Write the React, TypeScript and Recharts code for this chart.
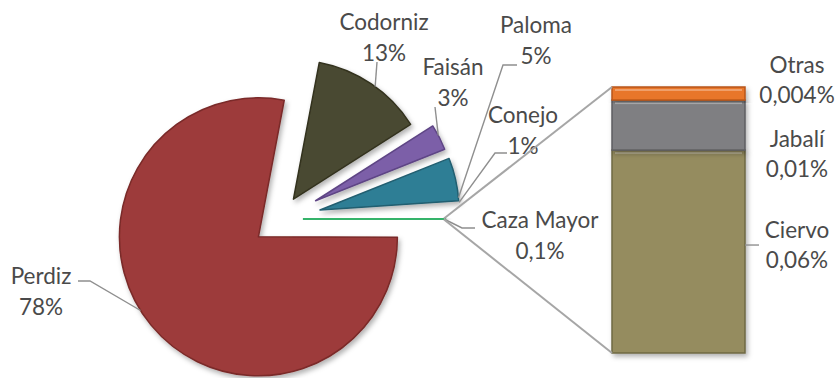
import React from 'react'
import { PieChart, Pie, Cell, BarChart, Bar, XAxis, YAxis } from 'recharts'

// main pie
const categories = ['Perdiz', 'Codorniz', 'Faisán', 'Paloma', 'Conejo', 'Caza Mayor']
const shares = [78, 13, 3, 5, 1, 0.1]
const shareLabels = ['78%', '13%', '3%', '5%', '1%', '0,1%']

// breakdown of "Caza Mayor" (bar)
const subCategories = ['Ciervo', 'Jabalí', 'Otras']
const subShares = [0.0605, 0.0149, 0.0039]
const subLabels = ['0,06%', '0,01%', '0,004%']

const W = 838
const H = 378
const FONT = 'Lato, "Open Sans", sans-serif'
const TEXT = '#4A4A4A'
const RAD = Math.PI / 180

const PIE_CX = 280
const PIE_CY = 219
const R = 139
const START = -0.18
const explode = [28, 24, 40, 41, 41, 25]
const sliceFill = ['#9D3B3A', '#4A4931', '#7C5FA8', '#2F7E95', 'transparent', '#34B36A']
const sliceStroke = ['#7A2A29', '#33321F', '#5E4585', '#215E70', 'none', '#34B36A']
const sliceStrokeW = [1.5, 1.5, 1.5, 1.5, 0, 4.5]

const subFill = ['#958C5E', '#7F7F82', '#E8762B']
const subStroke = ['#6F6944', '#5E5E61', '#B8561A']

// label text centre (first line), label-side leader points, anchor angle on slice
const pieLabelLayout = [
  { x: 41, y: 276, path: [[78, 281], [90, 281]], anchor: 212 },
  { x: 384, y: 22, path: [[377, 62]], anchor: 54 },
  { x: 453, y: 67, path: [[435, 107]], anchor: 28 },
  { x: 536, y: 25, path: [[517, 65], [503, 65]], anchor: 5 },
  { x: 523, y: 115, path: [[507, 153], [495, 153]], anchor: 6.3 },
  { x: 540, y: 220, path: [[475, 228], [462, 228]], anchor: 0 },
]
const subLabelDy = [-6.5, 29, -13.5]

const total = shares.reduce((a, b) => a + b, 0)
const pieData = categories.map((name, i) => ({ name, value: shares[i] }))

// slice angles (clockwise from START) and exploded centres
const sliceGeo = (() => {
  let acc = 0
  return shares.map((v, i) => {
    const a0 = START - (360 * acc) / total
    acc += v
    const a1 = START - (360 * acc) / total
    const mid = (a0 + a1) / 2
    const cx = PIE_CX + explode[i] * Math.cos(mid * RAD)
    const cy = PIE_CY - explode[i] * Math.sin(mid * RAD)
    return { a0, a1, mid, cx, cy }
  })
})()

const caza = sliceGeo[categories.length - 1]
const cazaTop = [caza.cx + R * Math.cos(caza.a0 * RAD), caza.cy - R * Math.sin(caza.a0 * RAD)]
const cazaBottom = [caza.cx + R * Math.cos(caza.a1 * RAD), caza.cy - R * Math.sin(caza.a1 * RAD)]

const subTotal = subShares.reduce((a, b) => a + b, 0)
const barRow: Record<string, number | string> = { name: 'Caza Mayor' }
subCategories.forEach((c, i) => (barRow[c] = subShares[i]))
const barData = [barRow]

const renderPieLabel = (i: number) => (props: any) => {
  if (props.index !== i) return null
  const L = pieLabelLayout[i]
  const g = sliceGeo[i]
  const ex = g.cx + R * Math.cos(L.anchor * RAD)
  const ey = g.cy - R * Math.sin(L.anchor * RAD)
  const pts = [...L.path, [ex, ey]].map((p) => p.join(',')).join(' ')
  return (
    <g key={'lbl' + i}>
      <polyline points={pts} fill="none" stroke="#8F8F8F" strokeWidth={1.4} />
      <text x={L.x} y={L.y + 8} textAnchor="middle" fontFamily={FONT} fontSize={22.5} fill={TEXT}>
        {categories[i]}
      </text>
      <text x={L.x} y={L.y + 39} textAnchor="middle" fontFamily={FONT} fontSize={22.5} fill={TEXT}>
        {shareLabels[i]}
      </text>
    </g>
  )
}

const makeBarShape = (i: number) => (props: any) => {
  const { x, y, width, height } = props
  const mid = y + height / 2 + subLabelDy[i]
  const lx = x + width + 52
  return (
    <g>
      <rect x={x} y={y} width={width} height={height} fill={subFill[i]} stroke={subStroke[i]} strokeWidth={1.5} filter="url(#softShadow)" />
      <rect x={x + 3} y={y + 2} width={width - 6} height={2} fill="#ffffff" opacity={0.3} />
      {i === 0 && (
        <>
          <line x1={x + width} y1={mid} x2={x + width + 14} y2={mid} stroke="#8F8F8F" strokeWidth={1.4} />
          <line x1={cazaBottom[0]} y1={cazaBottom[1]} x2={x} y2={y + height} stroke="#A6A6A6" strokeWidth={2} />
        </>
      )}
      {i === subCategories.length - 1 && (
        <line x1={cazaTop[0]} y1={cazaTop[1]} x2={x} y2={y} stroke="#A6A6A6" strokeWidth={2} />
      )}
      <text x={lx} y={mid - 7} textAnchor="middle" fontFamily={FONT} fontSize={22.5} fill={TEXT}>
        {subCategories[i]}
      </text>
      <text x={lx} y={mid + 23} textAnchor="middle" fontFamily={FONT} fontSize={22.5} fill={TEXT}>
        {subLabels[i]}
      </text>
    </g>
  )
}

export default function App() {
  return (
    <div style={{ position: 'fixed', left: 0, top: 0, width: W, height: H, background: '#fff' }}>
      <svg width={0} height={0} style={{ position: 'absolute' }}>
        <defs>
          <filter id="softShadow" x="-20%" y="-20%" width="140%" height="140%">
            <feDropShadow dx={2} dy={3} stdDeviation={2.5} floodColor="#000" floodOpacity={0.3} />
          </filter>
        </defs>
      </svg>
      <div style={{ position: 'absolute', left: 0, top: 0 }}>
        <PieChart width={W} height={H} margin={{ top: 0, right: 0, bottom: 0, left: 0 }}>
          {categories.map((c, i) => (
            <Pie
              key={c}
              data={pieData}
              dataKey="value"
              nameKey="name"
              cx={sliceGeo[i].cx}
              cy={sliceGeo[i].cy}
              innerRadius={0}
              outerRadius={R}
              startAngle={START}
              endAngle={START - 360}
              isAnimationActive={false}
              label={renderPieLabel(i)}
              labelLine={false}
            >
              {pieData.map((d, j) => (
                <Cell
                  key={d.name}
                  fill={j === i ? sliceFill[i] : 'transparent'}
                  stroke={j === i ? sliceStroke[i] : 'none'}
                  strokeWidth={j === i ? sliceStrokeW[i] : 0}
                  strokeLinejoin="round"
                  filter={j === i && sliceFill[i] !== 'transparent' ? 'url(#softShadow)' : undefined}
                />
              ))}
            </Pie>
          ))}
        </PieChart>
      </div>
      <div style={{ position: 'absolute', left: 0, top: 0 }}>
        <BarChart width={W} height={H} data={barData} margin={{ top: 87, right: 93, bottom: 25, left: 612 }} barCategoryGap={0}>
          <XAxis dataKey="name" hide />
          <YAxis hide domain={[0, subTotal]} />
          {subCategories.map((c, i) => (
            <Bar key={c} dataKey={c} stackId="a" isAnimationActive={false} shape={makeBarShape(i)} />
          ))}
        </BarChart>
      </div>
    </div>
  )
}
